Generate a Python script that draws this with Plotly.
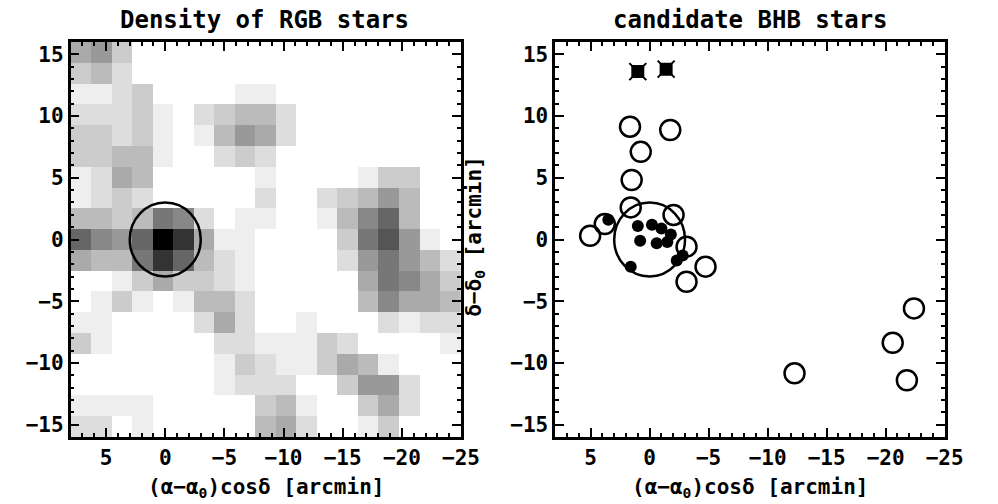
import plotly.graph_objects as go

# ---------------- data ----------------
# density grid (19 x 19), rows from top (dec high) to bottom, columns from left (RA offset +8) to right (-25)
density = [
    [5, 6, 3, 0, 0, 0, 0, 0, 0, 0, 0, 0, 0, 0, 0, 0, 0, 0, 0],
    [3, 4, 2, 0, 0, 0, 0, 0, 0, 0, 0, 0, 0, 0, 0, 0, 0, 0, 0],
    [1, 1, 2, 3, 0, 0, 0, 0, 1, 1, 0, 0, 0, 0, 0, 0, 0, 0, 0],
    [2, 2, 2, 3, 1, 0, 2, 3, 4, 4, 2, 0, 0, 0, 0, 0, 0, 0, 0],
    [3, 3, 2, 3, 1, 0, 1, 4, 6, 5, 2, 0, 0, 0, 0, 0, 0, 0, 0],
    [3, 3, 4, 4, 1, 0, 0, 2, 3, 2, 0, 0, 0, 0, 0, 0, 0, 0, 0],
    [1, 2, 5, 4, 0, 0, 0, 0, 0, 1, 0, 0, 0, 0, 1, 3, 3, 0, 0],
    [1, 2, 3, 2, 0, 0, 0, 0, 0, 2, 0, 0, 2, 3, 4, 6, 4, 0, 0],
    [4, 4, 3, 4, 8, 7, 2, 0, 1, 1, 0, 0, 1, 4, 7, 9, 4, 0, 0],
    [9, 7, 6, 9, 15, 12, 5, 1, 1, 0, 0, 0, 0, 3, 8, 10, 6, 1, 0],
    [5, 4, 4, 8, 12, 9, 4, 2, 1, 0, 0, 0, 0, 2, 6, 8, 6, 4, 2],
    [0, 0, 1, 3, 5, 3, 3, 2, 1, 0, 0, 0, 0, 0, 5, 8, 7, 5, 3],
    [0, 1, 3, 1, 0, 1, 4, 4, 2, 0, 0, 0, 0, 0, 4, 7, 5, 5, 4],
    [1, 1, 0, 0, 0, 0, 2, 5, 2, 0, 0, 1, 0, 0, 0, 2, 1, 2, 2],
    [3, 1, 0, 0, 0, 0, 0, 2, 2, 1, 1, 1, 3, 2, 0, 0, 0, 0, 1],
    [0, 0, 0, 0, 0, 0, 0, 1, 3, 2, 1, 1, 3, 5, 4, 1, 0, 0, 0],
    [0, 0, 0, 0, 0, 0, 0, 1, 2, 2, 2, 0, 0, 3, 6, 6, 2, 0, 0],
    [1, 1, 1, 1, 0, 0, 0, 0, 0, 3, 4, 1, 0, 0, 3, 5, 2, 0, 0],
    [2, 2, 0, 1, 0, 0, 0, 0, 0, 4, 5, 2, 0, 0, 1, 3, 0, 0, 0],
]
grid_x_start, grid_x_end = 8.0, -25.0
grid_y_start, grid_y_end = 16.0, -16.0

# BHB candidates
open_x = [1.66, -1.75, 0.75, 1.52, 1.6, 5.04, 3.8, -2.03, -4.74, -3.13, -3.13, -12.28, -20.6, -22.4, -21.8]
open_y = [9.14, 8.87, 7.10, 4.82, 2.6, 0.30, 1.25, 1.99, -2.20, -3.42, -0.58, -10.84, -8.36, -5.58, -11.40]
filled_x = [1.0, -0.2, -1.0, 0.8, -0.6, -1.5, -1.8, 1.6, -2.3, -2.8, 3.5]
filled_y = [1.1, 1.2, 0.9, -0.1, -0.3, -0.2, 0.4, -2.2, -1.7, -1.3, 1.6]
square_x = [1.0, -1.4]
square_y = [13.6, 13.8]

core_radius = 3.0
xticks = [5, 0, -5, -10, -15, -20, -25]
yticks = [15, 10, 5, 0, -5, -10, -15]

# ---------------- figure ----------------
ncol = len(density[0])
nrow = len(density)
dx = (grid_x_end - grid_x_start) / ncol
dy = (grid_y_end - grid_y_start) / nrow
xc = [grid_x_start + dx * (i + 0.5) for i in range(ncol)]
yc = [grid_y_start + dy * (j + 0.5) for j in range(nrow)]

fig = go.Figure()
fig.add_trace(go.Heatmap(
    z=density, x=xc, y=yc, zmin=0, zmax=15,
    colorscale=[[0, "#ffffff"], [1, "#000000"]], showscale=False,
    xaxis="x", yaxis="y", hoverinfo="skip"))

fig.add_trace(go.Scatter(
    x=filled_x, y=filled_y, mode="markers", xaxis="x2", yaxis="y2",
    marker=dict(symbol="circle", size=12, color="black"), showlegend=False))
fig.add_trace(go.Scatter(
    x=open_x, y=open_y, mode="markers", xaxis="x2", yaxis="y2",
    marker=dict(symbol="circle-open", size=20, color="black", line=dict(width=2.5)),
    showlegend=False))
fig.add_trace(go.Scatter(
    x=square_x, y=square_y, mode="markers", xaxis="x2", yaxis="y2",
    marker=dict(symbol="square", size=13, color="black"), showlegend=False))
fig.add_trace(go.Scatter(
    x=square_x, y=square_y, mode="markers", xaxis="x2", yaxis="y2",
    marker=dict(symbol="x-thin-open", size=17, color="black", line=dict(width=2)),
    showlegend=False))

FONT = "DejaVu Sans Mono"

def xaxis_cfg(domain, anchor):
    return dict(domain=domain, anchor=anchor, range=[8, -25], tickvals=xticks,
                ticktext=[str(v).replace("-", "−") for v in xticks],
                ticks="inside", ticklen=9, tickwidth=2, tickcolor="black",
                minor=dict(dtick=1, tick0=0, ticks="inside", ticklen=4, tickwidth=2, tickcolor="black"),
                showline=True, linewidth=2.5, linecolor="black", mirror="ticks",
                showgrid=False, zeroline=False,
                tickfont=dict(family=FONT, size=21, color="black", weight="bold"))

def yaxis_cfg(anchor):
    return dict(domain=[0.1329, 0.9167], anchor=anchor, range=[-16, 16], tickvals=yticks,
                ticktext=[str(v).replace("-", "−") for v in yticks],
                ticks="inside", ticklen=9, tickwidth=2, tickcolor="black",
                minor=dict(dtick=1, tick0=0, ticks="inside", ticklen=4, tickwidth=2, tickcolor="black"),
                showline=True, linewidth=2.5, linecolor="black", mirror="ticks",
                showgrid=False, zeroline=False,
                tickfont=dict(family=FONT, size=21, color="black", weight="bold"))

fig.update_layout(
    width=998, height=504, margin=dict(l=0, r=0, t=0, b=0),
    paper_bgcolor="white", plot_bgcolor="white", showlegend=False,
    xaxis=xaxis_cfg([0.0721, 0.4709], "y"),
    yaxis=yaxis_cfg("x"),
    xaxis2=xaxis_cfg([0.5671, 0.9649], "y2"),
    yaxis2=yaxis_cfg("x2"),
)

fig.add_shape(type="circle", xref="x", yref="y", x0=-core_radius, x1=core_radius,
              y0=-core_radius, y1=core_radius, line=dict(color="black", width=2.5))
fig.add_shape(type="circle", xref="x2", yref="y2", x0=-core_radius, x1=core_radius,
              y0=-core_radius, y1=core_radius, line=dict(color="black", width=2.5))

ann = [
    dict(text="Density of RGB stars", x=270, y=20, size=24),
    dict(text="candidate BHB stars", x=765, y=20, size=24),
    dict(text="(α−α<sub>0</sub>)cosδ [arcmin]", x=271, y=488, size=21),
    dict(text="(α−α<sub>0</sub>)cosδ [arcmin]", x=765, y=488, size=21),
]
for a in ann:
    fig.add_annotation(text=a["text"], xref="paper", yref="paper",
                       x=a["x"] / 998, y=1 - a["y"] / 504, showarrow=False,
                       xanchor="center", yanchor="middle",
                       font=dict(family=FONT, size=a["size"], color="black", weight="bold"))
fig.add_annotation(text="δ−δ<sub>0</sub> [arcmin]", xref="paper", yref="paper",
                   x=484 / 998, y=1 - 236 / 504, showarrow=False, textangle=-90,
                   xanchor="center", yanchor="middle",
                   font=dict(family=FONT, size=21, color="black", weight="bold"))

fig.write_html("out.html")
